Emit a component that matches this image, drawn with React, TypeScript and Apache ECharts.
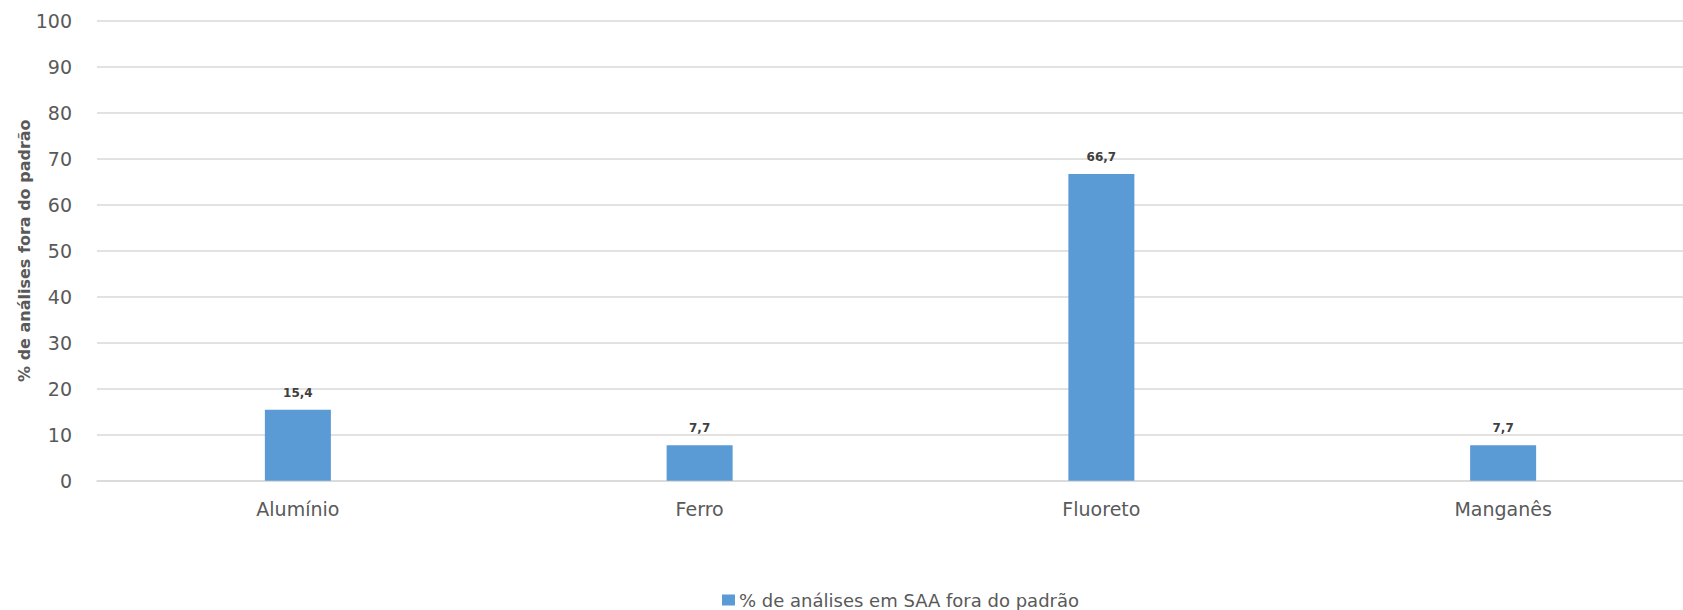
import React, { useEffect, useRef } from "react";
import * as echarts from "echarts";

const categories = ["Alumínio", "Ferro", "Fluoreto", "Manganês"];
const values = [15.4, 7.7, 66.7, 7.7];
const seriesName = "% de análises em SAA fora do padrão";
const yAxisTitle = "% de análises fora do padrão";

const FONT = "DejaVu Sans";

export default function App() {
  const ref = useRef<HTMLDivElement>(null);
  useEffect(() => {
    if (!ref.current) return;
    const chart = echarts.init(ref.current, undefined, { renderer: "svg" });
    chart.setOption({
      animation: false,
      backgroundColor: "#ffffff",
      textStyle: { fontFamily: FONT },
      grid: { left: 97, right: 0, top: 20.7, bottom: 129.3, containLabel: false },
      legend: {
        show: true,
        left: 717,
        top: 586,
        itemWidth: 13,
        itemHeight: 11,
        icon: "rect",
        textStyle: { fontSize: 18, lineHeight: 18, color: "#595959", fontFamily: FONT, padding: [0, 0, 0, -1] },
        data: [seriesName],
      },
      xAxis: {
        type: "category",
        data: categories,
        axisLine: { show: true, lineStyle: { color: "#d9d9d9", width: 1.5 } },
        axisTick: { show: false },
        axisLabel: { color: "#595959", fontSize: 19, margin: 19, fontFamily: FONT },
      },
      yAxis: {
        type: "value",
        min: 0,
        max: 100,
        interval: 10,
        name: yAxisTitle,
        nameLocation: "middle",
        nameGap: 65,
        nameMoveOverlap: false,
        nameRotate: 90,
        nameTextStyle: { fontSize: 16, fontWeight: "bold", color: "#595959", fontFamily: FONT },
        axisLine: { show: false },
        axisTick: { show: false },
        axisLabel: { color: "#595959", fontSize: 19, margin: 25, fontFamily: FONT },
        splitLine: { lineStyle: { color: "#d9d9d9", width: 1.5 } },
      },
      series: [
        {
          name: seriesName,
          type: "bar",
          data: values,
          barWidth: 66,
          itemStyle: { color: "#5B9BD5" },
          label: {
            show: true,
            position: "top",
            distance: 11,
            fontSize: 12,
            fontWeight: "bold",
            color: "#404040",
            fontFamily: FONT,
            formatter: (p: any) => String(p.value).replace(".", ","),
          },
        },
      ],
    });
    return () => chart.dispose();
  }, []);
  return (
    <div style={{ position: "absolute", left: 0, top: 0, width: 1683, height: 610, overflow: "hidden", background: "#fff" }}>
      <div ref={ref} style={{ position: "absolute", left: 0, top: 0, width: 1704, height: 610 }} />
    </div>
  );
}
